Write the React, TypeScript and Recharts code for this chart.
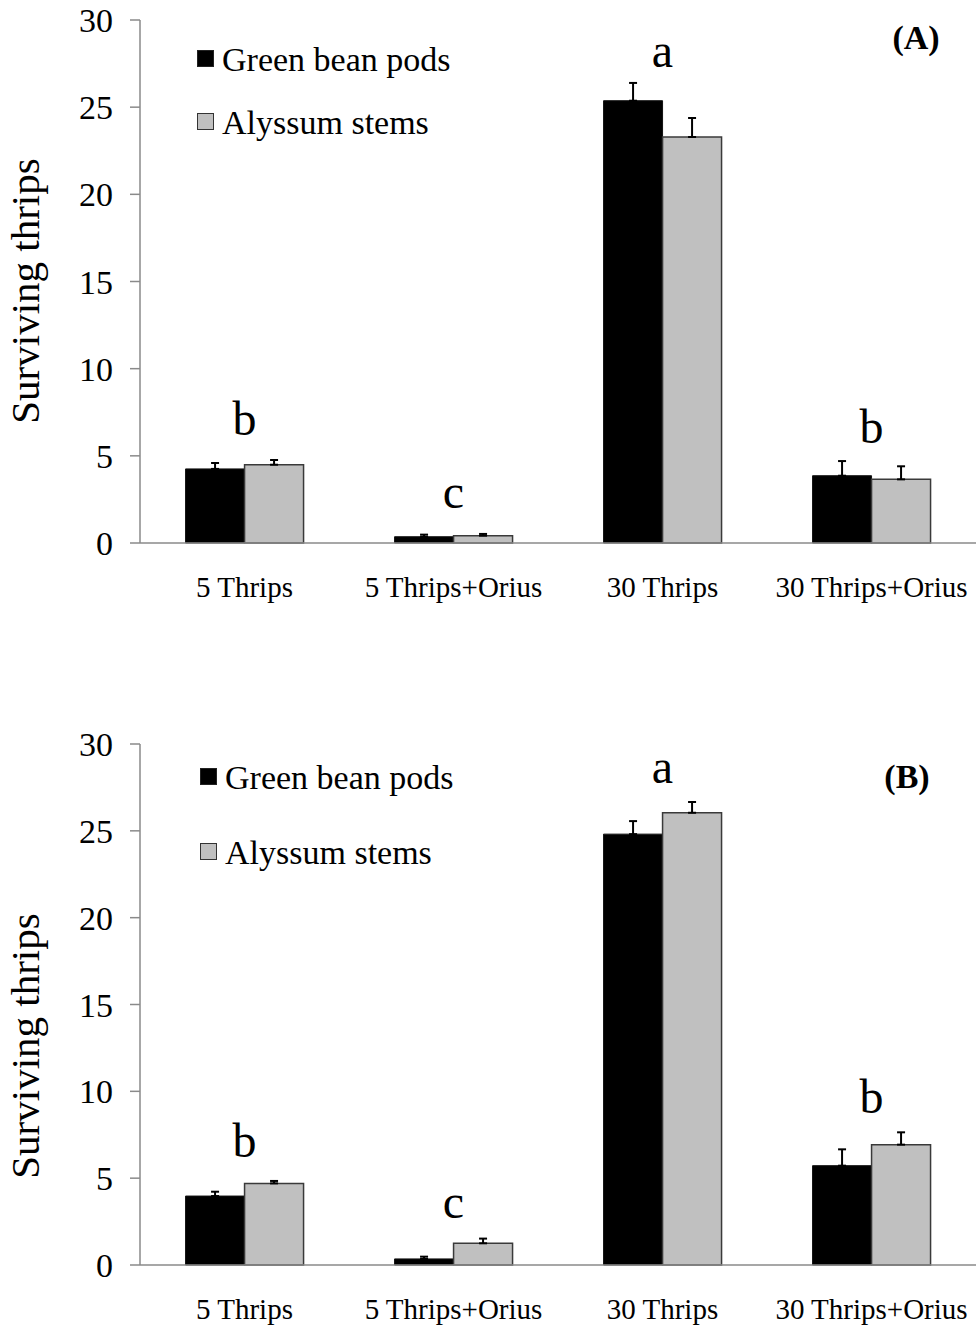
import React from 'react';
import { BarChart, Bar, XAxis, YAxis, ErrorBar, Legend, ReferenceDot } from 'recharts';

const categories = ['5 Thrips', '5 Thrips+Orius', '30 Thrips', '30 Thrips+Orius'];
const seriesNames = ['Green bean pods', 'Alyssum stems'];
const yTicks = [0, 5, 10, 15, 20, 25, 30];

// Panel A
const aGreen = [4.25, 0.36, 25.37, 3.86];
const aGreenErr = [0.34, 0.12, 1.02, 0.84];
const aAlyssum = [4.49, 0.42, 23.29, 3.65];
const aAlyssumErr = [0.27, 0.1, 1.09, 0.75];
const aLetters = ['b', 'c', 'a', 'b'];
const aLetterY = [6.2, 2.0, 27.3, 5.74];

// Panel B
const bGreen = [3.97, 0.35, 24.81, 5.72];
const bGreenErr = [0.25, 0.13, 0.75, 0.94];
const bAlyssum = [4.7, 1.25, 26.04, 6.93];
const bAlyssumErr = [0.14, 0.27, 0.62, 0.71];
const bLetters = ['b', 'c', 'a', 'b'];
const bLetterY = [6.22, 2.7, 27.75, 8.75];

const FONT = '"Liberation Serif", "Times New Roman", serif';
const BLACK = '#000000';
const GRAY = '#c0c0c0';
const AXIS = '#8a8a8a';

const build = (g: number[], ge: number[], a: number[], ae: number[]) =>
  categories.map((c, i) => ({
    cat: c,
    green: g[i],
    greenErr: [0, ge[i]],
    alyssum: a[i],
    alyssumErr: [0, ae[i]],
  }));

const XTick = (props: any) => {
  const { x, y, payload } = props;
  return (
    <text x={x} y={y + 54} textAnchor="middle" fontSize={29} fontFamily={FONT} fill="#000">
      {payload.value}
    </text>
  );
};

const YTick = (props: any) => {
  const { x, y, payload } = props;
  return (
    <text x={x} y={y + 12} textAnchor="end" fontSize={34} fontFamily={FONT} fill="#000">
      {payload.value}
    </text>
  );
};

const makeLegend = (gap: number) => () => (
  <svg width={300} height={gap + 40} style={{ overflow: 'visible' }}>
    <rect x={0.5} y={0.5} width={16} height={16} fill={BLACK} stroke="#222" />
    <text x={25} y={21} fontSize={34} fontFamily={FONT} fill="#000">{seriesNames[0]}</text>
    <rect x={0.5} y={gap + 0.5} width={16} height={16} fill={GRAY} stroke="#333" />
    <text x={25} y={gap + 21} fontSize={34} fontFamily={FONT} fill="#000">{seriesNames[1]}</text>
  </svg>
);

type PanelProps = {
  data: any[];
  letters: string[];
  letterY: number[];
  height: number;
  top: number;
  marginTop: number;
  xAxisHeight: number;
  legendLeft: number;
  legendTop: number;
  legendGap: number;
  tag: string;
  tagX: number;
  tagY: number;
  titleY: number;
};

const Panel = (p: PanelProps) => (
  <div style={{ position: 'absolute', left: 0, top: p.top, width: 977, height: p.height }}>
    <BarChart
      width={977}
      height={p.height}
      data={p.data}
      margin={{ top: p.marginTop, right: 1, bottom: 0, left: 0 }}
      barGap={0}
      barCategoryGap="21.8%"
    >
      <XAxis
        xAxisId="edge"
        type="number"
        domain={[0, 4]}
        ticks={[0, 1, 2, 3, 4]}
        height={0}
        axisLine={false}
        tick={false}
        tickSize={9}
        tickLine={{ stroke: AXIS, strokeWidth: 1.5 }}
      />
      <XAxis
        dataKey="cat"
        height={p.xAxisHeight}
        axisLine={{ stroke: AXIS, strokeWidth: 1.5 }}
        tickLine={false}
        tickSize={0}
        tickMargin={0}
        interval={0}
        tick={<XTick />}
      />
      <YAxis
        domain={[0, 30]}
        ticks={yTicks}
        interval={0}
        width={140}
        axisLine={{ stroke: AXIS, strokeWidth: 1.5 }}
        tickLine={{ stroke: AXIS, strokeWidth: 1.5 }}
        tickSize={10}
        tickMargin={17}
        tick={<YTick />}
      />
      <Legend
        layout="vertical"
        align="center"
        verticalAlign="middle"
        content={makeLegend(p.legendGap)}
        wrapperStyle={{ left: p.legendLeft, top: p.legendTop, width: 300 }}
      />
      <Bar dataKey="green" name={seriesNames[0]} fill={BLACK} stroke="#111" strokeWidth={1} isAnimationActive={false}>
        <ErrorBar dataKey="greenErr" direction="y" width={4} stroke="#000" strokeWidth={2} isAnimationActive={false} />
      </Bar>
      <Bar dataKey="alyssum" name={seriesNames[1]} fill={GRAY} stroke="#3a3a3a" strokeWidth={1.5} isAnimationActive={false}>
        <ErrorBar dataKey="alyssumErr" direction="y" width={4} stroke="#000" strokeWidth={2} isAnimationActive={false} />
      </Bar>
      {categories.map((c, i) => (
        <ReferenceDot
          key={c}
          x={c}
          y={p.letterY[i]}
          r={0}
          ifOverflow="visible"
          shape={(sp: any) => (
            <text x={sp.cx} y={sp.cy} textAnchor="middle" fontSize={48} fontFamily={FONT} fill="#000">
              {p.letters[i]}
            </text>
          )}
        />
      ))}
    </BarChart>
    <svg
      width={977}
      height={p.height}
      style={{ position: 'absolute', left: 0, top: 0, pointerEvents: 'none', overflow: 'visible' }}
    >
      <text
        x={39}
        y={p.titleY}
        transform={`rotate(-90, 39, ${p.titleY})`}
        textAnchor="middle"
        fontSize={41}
        fontFamily={FONT}
        fill="#000"
      >
        Surviving thrips
      </text>
      <text x={p.tagX} y={p.tagY} textAnchor="middle" fontSize={34} fontWeight="bold" fontFamily={FONT} fill="#000">
        {p.tag}
      </text>
    </svg>
  </div>
);

export default function App() {
  const dataA = build(aGreen, aGreenErr, aAlyssum, aAlyssumErr);
  const dataB = build(bGreen, bGreenErr, bAlyssum, bAlyssumErr);
  return (
    <div style={{ position: 'absolute', left: 0, top: 0, width: 977, height: 1326, background: '#fff' }}>
      <Panel
        data={dataA}
        letters={aLetters}
        letterY={aLetterY}
        height={660}
        top={0}
        marginTop={20}
        xAxisHeight={117}
        legendLeft={197}
        legendTop={50}
        legendGap={63}
        tag="(A)"
        tagX={916}
        tagY={49}
        titleY={291}
      />
      <Panel
        data={dataB}
        letters={bLetters}
        letterY={bLetterY}
        height={666}
        top={660}
        marginTop={84}
        xAxisHeight={61}
        legendLeft={200}
        legendTop={108}
        legendGap={75}
        tag="(B)"
        tagX={907}
        tagY={128}
        titleY={386}
      />
    </div>
  );
}
